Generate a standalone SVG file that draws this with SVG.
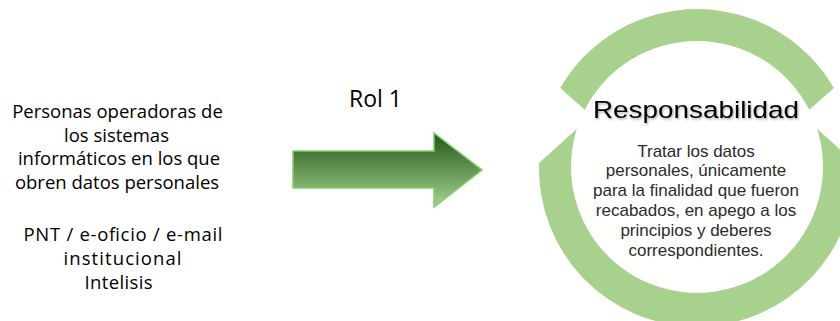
<svg xmlns="http://www.w3.org/2000/svg" width="840" height="321" viewBox="0 0 840 321">
  <defs>
    <style>
      .lt { font-family: "Open Sans", "Noto Sans", "Liberation Sans", sans-serif; font-size: 18.5px; fill: #000; text-anchor: middle; }
      .rol { font-family: "Open Sans", "Noto Sans", "Liberation Sans", sans-serif; font-size: 23px; fill: #000; text-anchor: middle; }
      .ring { fill: #a9d18e; stroke: none; }
      .title { font-family: "Liberation Sans", Arial, sans-serif; font-size: 24.5px; fill: #000; text-anchor: middle; }
      .body { font-family: "Liberation Sans", Arial, sans-serif; font-size: 17px; fill: #2b2b2b; text-anchor: middle; }
    </style>
    <linearGradient id="arrowGrad" x1="0" y1="0" x2="0" y2="1">
      <stop offset="0" stop-color="#27551a"/>
      <stop offset="1" stop-color="#a3d48e"/>
    </linearGradient>
    <filter id="shadow" x="-10%" y="-30%" width="120%" height="160%">
      <feDropShadow dx="1" dy="1.5" stdDeviation="1.2" flood-color="#000" flood-opacity="0.35"/>
    </filter>
  </defs>

  <rect width="840" height="321" fill="#fff"/>

  <g id="node-source">
    <text class="lt" x="117.5" y="118">Personas operadoras de</text>
    <text class="lt" x="116.5" y="141.5">los sistemas</text>
    <text class="lt" x="119" y="165">informáticos en los que</text>
    <text class="lt" x="117" y="188.5">obren datos personales</text>
    <text class="lt" x="123" y="240.5" textLength="199" lengthAdjust="spacing">PNT / e-oficio / e-mail</text>
    <text class="lt" x="122.5" y="264.5" textLength="118" lengthAdjust="spacing">institucional</text>
    <text class="lt" x="118.5" y="288.5" textLength="68" lengthAdjust="spacing">Intelisis</text>
  </g>

  <g id="connectors">
    <polygon points="293,151 434,151 434,133 482,170 434,207 434,188 293,188" fill="url(#arrowGrad)" stroke="#80d06a" stroke-width="1.5" stroke-linejoin="miter"/>
    <text id="label-rol1" class="rol" x="375.5" y="107">Rol 1</text>
  </g>

  <g id="node-responsabilidad">
    <path class="ring" d="M560.2,88 A158,158 0 0 1 833.8,88 L809.3,109.8 A126,126 0 0 0 584.7,109.8 Z"/>
    <path class="ring" d="M539.1,162.9 A158,158 0 1 0 854.9,162.9 L817.1,128.7 A126,126 0 1 1 576.9,128.7 Z"/>
    <text class="title" x="696" y="117.5" textLength="206" lengthAdjust="spacingAndGlyphs" filter="url(#shadow)">Responsabilidad</text>
    <text class="body" x="696" y="156.5">Tratar los datos</text>
    <text class="body" x="696" y="176">personales, únicamente</text>
    <text class="body" x="696" y="196">para la finalidad que fueron</text>
    <text class="body" x="696" y="216">recabados, en apego a los</text>
    <text class="body" x="696" y="236">principios y deberes</text>
    <text class="body" x="696" y="256">correspondientes.</text>
  </g>
</svg>
